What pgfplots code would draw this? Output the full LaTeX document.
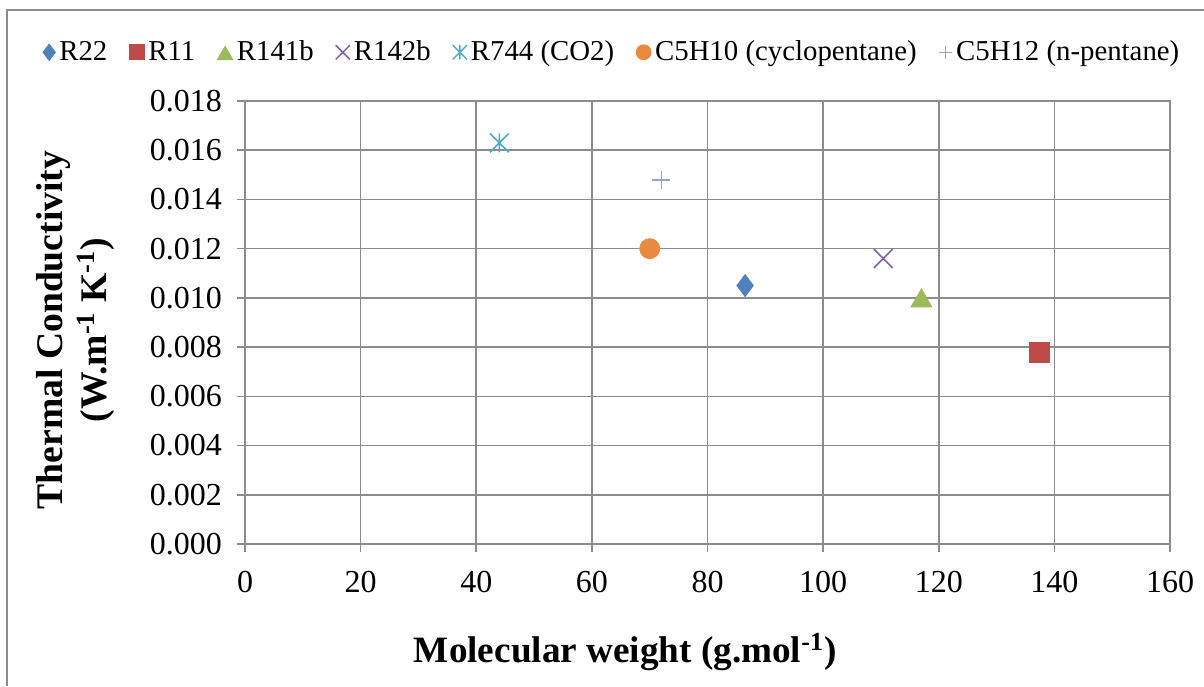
\documentclass[border=0pt]{standalone}
\usepackage{fontspec}
\setmainfont{Liberation Serif}
\usepackage{pgfplots}
\pgfplotsset{compat=1.18}
\usetikzlibrary{plotmarks}

\definecolor{cR22}{HTML}{4F81BD}
\definecolor{cR11}{HTML}{BE4B48}
\definecolor{cR141}{HTML}{9BBB59}
\definecolor{cR142}{HTML}{8064A2}
\definecolor{cCO2}{HTML}{4BACC6}
\definecolor{cC5H10}{HTML}{E98A3E}
\definecolor{cC5H12}{HTML}{8EA6D3}
\definecolor{gridgray}{HTML}{8C8C8C}

% Excel style star: an x with a vertical bar
\pgfdeclareplotmark{xstar}{%
  \pgfpathmoveto{\pgfqpoint{0pt}{.70710678\pgfplotmarksize}}%
  \pgfpathlineto{\pgfqpoint{0pt}{-.70710678\pgfplotmarksize}}%
  \pgfpathmoveto{\pgfqpoint{-.70710678\pgfplotmarksize}{-.70710678\pgfplotmarksize}}%
  \pgfpathlineto{\pgfqpoint{.70710678\pgfplotmarksize}{.70710678\pgfplotmarksize}}%
  \pgfpathmoveto{\pgfqpoint{-.70710678\pgfplotmarksize}{.70710678\pgfplotmarksize}}%
  \pgfpathlineto{\pgfqpoint{.70710678\pgfplotmarksize}{-.70710678\pgfplotmarksize}}%
  \pgfusepathqstroke}

\begin{document}
\begin{tikzpicture}
\path[use as bounding box] (0,0) rectangle (602pt,343pt);
\draw[gridgray, line width=0.6pt] (3.5pt,0) -- (3.5pt,338pt) -- (602pt,338pt);
\begin{axis}[
  at={(122.5pt,71pt)}, anchor=south west,
  scale only axis, width=462.5pt, height=221.5pt,
  xmin=0, xmax=160, ymin=0, ymax=0.018,
  xtick={0,20,...,160}, ytick={0,0.002,...,0.0181},
  scaled y ticks=false,
  /pgf/number format/assume math mode=true,
  yticklabel style={/pgf/number format/fixed, /pgf/number format/fixed zerofill, /pgf/number format/precision=3, xshift=-4pt},
  ticklabel style={font=\fontsize{16}{18}\selectfont},
  xticklabel style={yshift=-6pt},
  tick align=outside, major tick length=4pt,
  tick style={gridgray, line width=0.8pt},
  xtick pos=bottom, ytick pos=left,
  grid=major, major grid style={gridgray, line width=0.8pt},
  axis line style={gridgray, line width=0.8pt},
  clip=false,
  xlabel={\textbf{Molecular weight (g.mol\textsuperscript{-1})}},
  xlabel style={font=\fontsize{18.6}{20}\selectfont, at={(axis description cs:0.411,-0.244)}, anchor=center},
  ylabel={\textbf{Thermal Conductivity}\\\textbf{(W.m\textsuperscript{-1} K\textsuperscript{-1})}},
  ylabel style={font=\fontsize{18.8}{22}\selectfont, align=center, at={(axis description cs:-0.183,0.483)}, anchor=center},
  legend columns=-1,
  legend style={at={(axis description cs:0.398,1.11)}, anchor=center, draw=none, fill=none,
    font=\fontsize{14.4}{16}\selectfont,
    /tikz/every even column/.append style={column sep=9pt},
    /tikz/every odd column/.append style={column sep=0pt}},
  legend image code/.code={\draw[mark repeat=2,mark phase=2,/tikz/every mark/.append style={scale=0.75}] plot coordinates {(0pt,0pt)(4pt,0pt)(8pt,0pt)};},
]
\addplot[only marks, mark=diamond*, mark size=5.5pt, color=cR22] coordinates {(86.5,0.0105)};
\addlegendentry{R22}
\addplot[only marks, mark=square*, mark size=5pt, color=cR11] coordinates {(137.4,0.0078)};
\addlegendentry{R11}
\addplot[only marks, mark=triangle*, mark size=6pt, color=cR141, every mark/.append style={yshift=-1.5pt}] coordinates {(117.0,0.0100)};
\addlegendentry{R141b}
\addplot[only marks, mark=x, mark size=6.7pt, line width=0.75pt, color=cR142] coordinates {(110.4,0.0116)};
\addlegendentry{R142b}
\addplot[only marks, mark=xstar, mark size=6.7pt, line width=0.75pt, color=cCO2] coordinates {(44.0,0.0163)};
\addlegendentry{R744 (CO2)}
\addplot[only marks, mark=*, mark size=5pt, color=cC5H10] coordinates {(70.0,0.0120)};
\addlegendentry{C5H10 (cyclopentane)}
\addplot[only marks, mark=+, mark size=4.5pt, line width=0.75pt, color=cC5H12] coordinates {(72.0,0.0148)};
\addlegendentry{C5H12 (n-pentane)}
\end{axis}
\end{tikzpicture}
\end{document}
